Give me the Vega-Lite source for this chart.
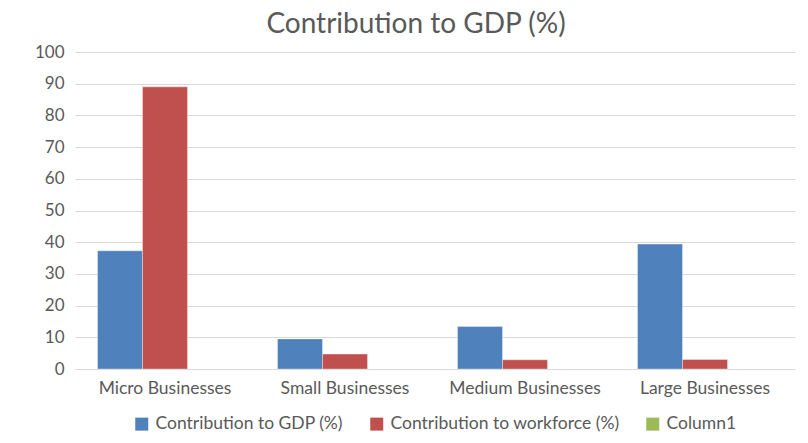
{
  "$schema": "https://vega.github.io/schema/vega-lite/v6.json",
  "width": 720,
  "height": 317,
  "autosize": {"type": "none"},
  "padding": {"left": 75, "top": 52, "right": 13, "bottom": 74},
  "background": "white",
  "title": {
    "text": "Contribution to GDP (%)",
    "font": "Lato",
    "fontSize": 28,
    "fontWeight": "normal",
    "color": "#595959",
    "anchor": "middle",
    "dx": -19,
    "offset": 4
  },
  "data": {
    "values": [
      {"category": "Micro Businesses", "series": "Contribution to GDP (%)", "value": 37.3},
      {"category": "Micro Businesses", "series": "Contribution to workforce (%)", "value": 89},
      {"category": "Small Businesses", "series": "Contribution to GDP (%)", "value": 9.5},
      {"category": "Small Businesses", "series": "Contribution to workforce (%)", "value": 4.7},
      {"category": "Medium Businesses", "series": "Contribution to GDP (%)", "value": 13.4},
      {"category": "Medium Businesses", "series": "Contribution to workforce (%)", "value": 2.9},
      {"category": "Large Businesses", "series": "Contribution to GDP (%)", "value": 39.4},
      {"category": "Large Businesses", "series": "Contribution to workforce (%)", "value": 3}
    ]
  },
  "mark": {"type": "bar", "stroke": "white", "strokeOpacity": 0.35, "strokeWidth": 1},
  "encoding": {
    "x": {
      "field": "category",
      "type": "nominal",
      "sort": ["Micro Businesses", "Small Businesses", "Medium Businesses", "Large Businesses"],
      "scale": {"paddingInner": 0.25, "paddingOuter": 0.125},
      "axis": {
        "title": null,
        "labelAngle": 0,
        "ticks": false,
        "domainColor": "#d9d9d9",
        "labelFont": "Lato",
        "labelFontSize": 17.5,
        "labelColor": "#595959",
        "labelPadding": 10,
        "labelLimit": 0
      }
    },
    "xOffset": {
      "field": "series",
      "type": "nominal",
      "scale": {"domain": ["Contribution to GDP (%)", "Contribution to workforce (%)", "Column1"], "paddingInner": 0, "paddingOuter": 0}
    },
    "y": {
      "field": "value",
      "type": "quantitative",
      "scale": {"domain": [0, 100]},
      "axis": {
        "title": null,
        "values": [0, 10, 20, 30, 40, 50, 60, 70, 80, 90, 100],
        "ticks": false,
        "domain": false,
        "gridColor": "#d9d9d9",
        "labelFont": "Lato",
        "labelFontSize": 17,
        "labelColor": "#595959",
        "labelPadding": 11
      }
    },
    "color": {
      "field": "series",
      "type": "nominal",
      "scale": {
        "domain": ["Contribution to GDP (%)", "Contribution to workforce (%)", "Column1"],
        "range": ["#4F81BD", "#C0504D", "#9BBB59"]
      },
      "legend": {
        "title": null,
        "orient": "bottom",
        "direction": "horizontal",
        "symbolType": "square",
        "symbolSize": 169,
        "symbolStrokeWidth": 0,
        "labelFont": "Lato",
        "labelFontSize": 17.5,
        "labelColor": "#595959",
        "labelLimit": 0,
        "labelOffset": 5,
        "columnPadding": 24,
        "offset": 18
      }
    }
  },
  "config": {
    "view": {"stroke": null},
    "legend": {"layout": {"bottom": {"anchor": "middle"}}}
  }
}
